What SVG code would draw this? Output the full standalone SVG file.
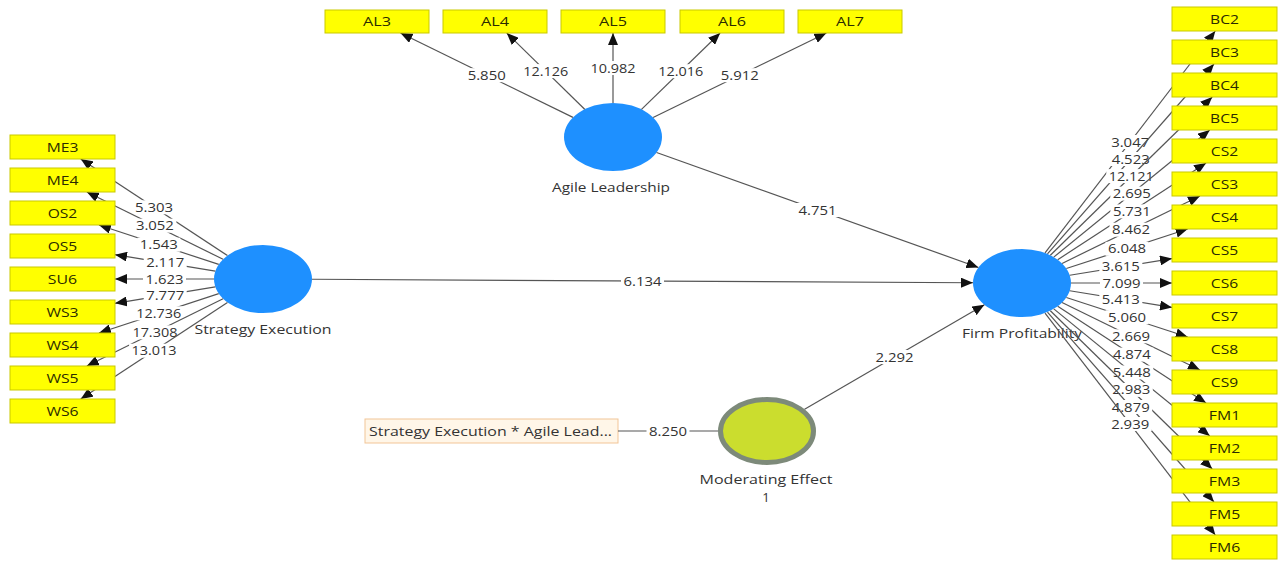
<svg xmlns="http://www.w3.org/2000/svg" width="1278" height="561" viewBox="0 0 1278 561">
<style>
  text { font-family: "Open Sans", "Noto Sans", "Liberation Sans", sans-serif; fill: #333; }
  .num { font-size: 13px; text-anchor: middle; }
  .lv { font-size: 13px; text-anchor: middle; }
  .ind rect { fill: #ffff00; stroke: #c9c900; stroke-width: 1; }
  .ind text { font-size: 13px; text-anchor: middle; fill: #2b2b00; }
  .lat ellipse { fill: #1e90ff; }
  .cn line { stroke: #555; stroke-width: 1.2; }
  .cn .a { marker-end: url(#arr); }
  .cn rect { fill: #fff; }
</style>
<defs>
  <marker id="arr" markerUnits="userSpaceOnUse" viewBox="0 0 12 10" refX="12" refY="5" markerWidth="12" markerHeight="10" orient="auto">
    <path d="M0,0 L12,5 L0,10 z" fill="#111"/>
  </marker>
</defs>
<rect width="1278" height="561" fill="#fff"/>

<!-- latent variables -->
<g id="strategy-execution" class="lat">
  <ellipse cx="263" cy="279" rx="49" ry="34"/>
  <text class="lv" x="263" y="334" textLength="137" lengthAdjust="spacingAndGlyphs">Strategy Execution</text>
</g>
<g id="agile-leadership" class="lat">
  <ellipse cx="613" cy="137" rx="49" ry="34"/>
  <text class="lv" x="611" y="192" textLength="118" lengthAdjust="spacingAndGlyphs">Agile Leadership</text>
</g>
<g id="firm-profitability" class="lat">
  <ellipse cx="1022" cy="283" rx="49" ry="34"/>
  <text class="lv" x="1022" y="338" textLength="120" lengthAdjust="spacingAndGlyphs">Firm Profitability</text>
</g>
<g id="moderating-effect-1">
  <ellipse cx="767" cy="431" rx="46.5" ry="31.5" fill="#cbdd2e" stroke="#7d8a7a" stroke-width="5"/>
  <text class="lv" x="766" y="484" textLength="133" lengthAdjust="spacingAndGlyphs">Moderating Effect</text>
  <text class="lv" x="766" y="502">1</text>
</g>
<g id="interaction-term">
  <rect x="365" y="419" width="253" height="24" fill="#fff6e8" stroke="#f2c597" stroke-width="1"/>
  <text x="369" y="435.5" font-size="13" textLength="243" lengthAdjust="spacingAndGlyphs">Strategy Execution * Agile Lead...</text>
</g>

<!-- connectors -->
<g id="connectors" class="cn">
  <!-- Strategy Execution outer loadings -->
  <g><line class="a" x1="227.45" y1="255.6" x2="80.73" y2="159"/><rect x="132.6" y="200.3" width="43" height="14"/><text class="num" x="154.1" y="211.8" textLength="38" lengthAdjust="spacingAndGlyphs">5.303</text></g>
  <g><line class="a" x1="223.08" y1="259.29" x2="86.8" y2="192"/><rect x="133.4" y="218.65" width="43" height="14"/><text class="num" x="154.9" y="230.15" textLength="38" lengthAdjust="spacingAndGlyphs">3.052</text></g>
  <g><line class="a" x1="218.73" y1="264.43" x2="98.95" y2="225"/><rect x="137.3" y="237.7" width="43" height="14"/><text class="num" x="158.8" y="249.2" textLength="38" lengthAdjust="spacingAndGlyphs">1.543</text></g>
  <g><line class="a" x1="215.32" y1="271.15" x2="115" y2="254.64"/><rect x="143.7" y="255.9" width="43" height="14"/><text class="num" x="165.2" y="267.4" textLength="38" lengthAdjust="spacingAndGlyphs">2.117</text></g>
  <g><line class="a" x1="214" y1="279" x2="115" y2="279"/><rect x="143" y="272" width="43" height="14"/><text class="num" x="164.5" y="283.5" textLength="38" lengthAdjust="spacingAndGlyphs">1.623</text></g>
  <g><line class="a" x1="215.32" y1="286.85" x2="115" y2="303.36"/><rect x="143.7" y="288.1" width="43" height="14"/><text class="num" x="165.2" y="299.6" textLength="38" lengthAdjust="spacingAndGlyphs">7.777</text></g>
  <g><line class="a" x1="218.73" y1="293.57" x2="98.95" y2="333"/><rect x="133.8" y="306.3" width="50" height="14"/><text class="num" x="158.8" y="317.8" textLength="45" lengthAdjust="spacingAndGlyphs">12.736</text></g>
  <g><line class="a" x1="223.08" y1="298.71" x2="86.8" y2="366"/><rect x="129.9" y="325.35" width="50" height="14"/><text class="num" x="154.9" y="336.85" textLength="45" lengthAdjust="spacingAndGlyphs">17.308</text></g>
  <g><line class="a" x1="227.45" y1="302.4" x2="80.73" y2="399"/><rect x="129.1" y="343.7" width="50" height="14"/><text class="num" x="154.1" y="355.2" textLength="45" lengthAdjust="spacingAndGlyphs">13.013</text></g>

  <!-- Agile Leadership outer loadings -->
  <g><line class="a" x1="572.96" y1="117.4" x2="400.5" y2="33"/><rect x="465.2" y="68.2" width="43" height="14"/><text class="num" x="486.7" y="79.7" textLength="38" lengthAdjust="spacingAndGlyphs">5.850</text></g>
  <g><line class="a" x1="584.66" y1="109.26" x2="506.75" y2="33"/><rect x="520.7" y="64.1" width="50" height="14"/><text class="num" x="545.7" y="75.6" textLength="45" lengthAdjust="spacingAndGlyphs">12.126</text></g>
  <g><line class="a" x1="613" y1="103" x2="613" y2="33"/><rect x="588" y="61" width="50" height="14"/><text class="num" x="613" y="72.5" textLength="45" lengthAdjust="spacingAndGlyphs">10.982</text></g>
  <g><line class="a" x1="641.5" y1="109.34" x2="720.15" y2="33"/><rect x="655.8" y="64.2" width="50" height="14"/><text class="num" x="680.8" y="75.7" textLength="45" lengthAdjust="spacingAndGlyphs">12.016</text></g>
  <g><line class="a" x1="653.1" y1="117.46" x2="826.4" y2="33"/><rect x="718.25" y="68.2" width="43" height="14"/><text class="num" x="739.75" y="79.7" textLength="38" lengthAdjust="spacingAndGlyphs">5.912</text></g>

  <!-- Firm Profitability outer loadings -->
  <g><line class="a" x1="1045.02" y1="252.99" x2="1215.3" y2="31"/><rect x="1108.7" y="135" width="43" height="14"/><text class="num" x="1130.2" y="146.5" textLength="38" lengthAdjust="spacingAndGlyphs">3.047</text></g>
  <g><line class="a" x1="1047.46" y1="253.95" x2="1213.98" y2="64"/><rect x="1109.2" y="152" width="43" height="14"/><text class="num" x="1130.7" y="163.5" textLength="38" lengthAdjust="spacingAndGlyphs">4.523</text></g>
  <g><line class="a" x1="1050.36" y1="255.27" x2="1212.23" y2="97"/><rect x="1106.3" y="169.1" width="50" height="14"/><text class="num" x="1131.3" y="180.6" textLength="45" lengthAdjust="spacingAndGlyphs">12.121</text></g>
  <g><line class="a" x1="1053.77" y1="257.11" x2="1209.77" y2="130"/><rect x="1110.3" y="186.6" width="43" height="14"/><text class="num" x="1131.8" y="198.1" textLength="38" lengthAdjust="spacingAndGlyphs">2.695</text></g>
  <g><line class="a" x1="1057.71" y1="259.72" x2="1206.09" y2="163"/><rect x="1110.4" y="204.4" width="43" height="14"/><text class="num" x="1131.9" y="215.9" textLength="38" lengthAdjust="spacingAndGlyphs">5.731</text></g>
  <g><line class="a" x1="1062.06" y1="263.42" x2="1199.95" y2="196"/><rect x="1109.5" y="222.7" width="43" height="14"/><text class="num" x="1131" y="234.2" textLength="38" lengthAdjust="spacingAndGlyphs">8.462</text></g>
  <g><line class="a" x1="1066.35" y1="268.54" x2="1187.68" y2="229"/><rect x="1105.5" y="241.8" width="43" height="14"/><text class="num" x="1127" y="253.3" textLength="38" lengthAdjust="spacingAndGlyphs">6.048</text></g>
  <g><line class="a" x1="1069.7" y1="275.23" x2="1172" y2="258.56"/><rect x="1099.35" y="259.9" width="43" height="14"/><text class="num" x="1120.85" y="271.4" textLength="38" lengthAdjust="spacingAndGlyphs">3.615</text></g>
  <g><line class="a" x1="1071" y1="283" x2="1172" y2="283"/><rect x="1100" y="276" width="43" height="14"/><text class="num" x="1121.5" y="287.5" textLength="38" lengthAdjust="spacingAndGlyphs">7.099</text></g>
  <g><line class="a" x1="1069.7" y1="290.77" x2="1172" y2="307.44"/><rect x="1099.35" y="292.1" width="43" height="14"/><text class="num" x="1120.85" y="303.6" textLength="38" lengthAdjust="spacingAndGlyphs">5.413</text></g>
  <g><line class="a" x1="1066.35" y1="297.46" x2="1187.68" y2="337"/><rect x="1105.5" y="310.2" width="43" height="14"/><text class="num" x="1127" y="321.7" textLength="38" lengthAdjust="spacingAndGlyphs">5.060</text></g>
  <g><line class="a" x1="1062.06" y1="302.58" x2="1199.95" y2="370"/><rect x="1109.5" y="329.3" width="43" height="14"/><text class="num" x="1131" y="340.8" textLength="38" lengthAdjust="spacingAndGlyphs">2.669</text></g>
  <g><line class="a" x1="1057.71" y1="306.28" x2="1206.09" y2="403"/><rect x="1110.4" y="347.6" width="43" height="14"/><text class="num" x="1131.9" y="359.1" textLength="38" lengthAdjust="spacingAndGlyphs">4.874</text></g>
  <g><line class="a" x1="1053.77" y1="308.89" x2="1209.77" y2="436"/><rect x="1110.3" y="365.45" width="43" height="14"/><text class="num" x="1131.8" y="376.95" textLength="38" lengthAdjust="spacingAndGlyphs">5.448</text></g>
  <g><line class="a" x1="1050.36" y1="310.73" x2="1212.23" y2="469"/><rect x="1109.8" y="382.9" width="43" height="14"/><text class="num" x="1131.3" y="394.4" textLength="38" lengthAdjust="spacingAndGlyphs">2.983</text></g>
  <g><line class="a" x1="1047.46" y1="312.05" x2="1213.98" y2="502"/><rect x="1109.2" y="400" width="43" height="14"/><text class="num" x="1130.7" y="411.5" textLength="38" lengthAdjust="spacingAndGlyphs">4.879</text></g>
  <g><line class="a" x1="1045.02" y1="313.01" x2="1215.3" y2="535"/><rect x="1108.7" y="417" width="43" height="14"/><text class="num" x="1130.2" y="428.5" textLength="38" lengthAdjust="spacingAndGlyphs">2.939</text></g>

  <!-- structural paths -->
  <g><line class="a" x1="312" y1="279.26" x2="973" y2="282.74"/><rect x="621" y="274" width="43" height="14"/><text class="num" x="642.5" y="285.5" textLength="38" lengthAdjust="spacingAndGlyphs">6.134</text></g>
  <g><line class="a" x1="656.57" y1="152.55" x2="978.43" y2="267.45"/><rect x="796" y="203" width="43" height="14"/><text class="num" x="817.5" y="214.5" textLength="38" lengthAdjust="spacingAndGlyphs">4.751</text></g>
  <g><line class="a" x1="804.58" y1="409.19" x2="984.42" y2="304.81"/><rect x="873" y="350" width="43" height="14"/><text class="num" x="894.5" y="361.5" textLength="38" lengthAdjust="spacingAndGlyphs">2.292</text></g>
  <g><line x1="618" y1="431" x2="718" y2="431"/><rect x="646.5" y="424" width="43" height="14"/><text class="num" x="668" y="435.5" textLength="38" lengthAdjust="spacingAndGlyphs">8.250</text></g>
</g>

<!-- indicators: Strategy Execution -->
<g id="ME3" class="ind"><rect x="10" y="135" width="105" height="24"/><text x="62.5" y="151.5" textLength="31.7" lengthAdjust="spacingAndGlyphs">ME3</text></g>
<g id="ME4" class="ind"><rect x="10" y="168" width="105" height="24"/><text x="62.5" y="184.5" textLength="31.7" lengthAdjust="spacingAndGlyphs">ME4</text></g>
<g id="OS2" class="ind"><rect x="10" y="201" width="105" height="24"/><text x="62.5" y="217.5" textLength="29.6" lengthAdjust="spacingAndGlyphs">OS2</text></g>
<g id="OS5" class="ind"><rect x="10" y="234" width="105" height="24"/><text x="62.5" y="250.5" textLength="29.6" lengthAdjust="spacingAndGlyphs">OS5</text></g>
<g id="SU6" class="ind"><rect x="10" y="267" width="105" height="24"/><text x="62.5" y="283.5" textLength="29.3" lengthAdjust="spacingAndGlyphs">SU6</text></g>
<g id="WS3" class="ind"><rect x="10" y="300" width="105" height="24"/><text x="62.5" y="316.5" textLength="32.2" lengthAdjust="spacingAndGlyphs">WS3</text></g>
<g id="WS4" class="ind"><rect x="10" y="333" width="105" height="24"/><text x="62.5" y="349.5" textLength="32.2" lengthAdjust="spacingAndGlyphs">WS4</text></g>
<g id="WS5" class="ind"><rect x="10" y="366" width="105" height="24"/><text x="62.5" y="382.5" textLength="32.2" lengthAdjust="spacingAndGlyphs">WS5</text></g>
<g id="WS6" class="ind"><rect x="10" y="399" width="105" height="24"/><text x="62.5" y="415.5" textLength="32.2" lengthAdjust="spacingAndGlyphs">WS6</text></g>

<!-- indicators: Agile Leadership -->
<g id="AL3" class="ind"><rect x="325" y="10" width="104" height="23"/><text x="377" y="26" textLength="28" lengthAdjust="spacingAndGlyphs">AL3</text></g>
<g id="AL4" class="ind"><rect x="443" y="10" width="104" height="23"/><text x="495" y="26" textLength="28" lengthAdjust="spacingAndGlyphs">AL4</text></g>
<g id="AL5" class="ind"><rect x="561" y="10" width="104" height="23"/><text x="613" y="26" textLength="28" lengthAdjust="spacingAndGlyphs">AL5</text></g>
<g id="AL6" class="ind"><rect x="680" y="10" width="104" height="23"/><text x="732" y="26" textLength="28" lengthAdjust="spacingAndGlyphs">AL6</text></g>
<g id="AL7" class="ind"><rect x="798" y="10" width="104" height="23"/><text x="850" y="26" textLength="28" lengthAdjust="spacingAndGlyphs">AL7</text></g>

<!-- indicators: Firm Profitability -->
<g id="BC2" class="ind"><rect x="1172" y="7" width="105" height="24"/><text x="1224.5" y="23.5" textLength="28.9" lengthAdjust="spacingAndGlyphs">BC2</text></g>
<g id="BC3" class="ind"><rect x="1172" y="40" width="105" height="24"/><text x="1224.5" y="56.5" textLength="28.9" lengthAdjust="spacingAndGlyphs">BC3</text></g>
<g id="BC4" class="ind"><rect x="1172" y="73" width="105" height="24"/><text x="1224.5" y="89.5" textLength="28.9" lengthAdjust="spacingAndGlyphs">BC4</text></g>
<g id="BC5" class="ind"><rect x="1172" y="106" width="105" height="24"/><text x="1224.5" y="122.5" textLength="28.9" lengthAdjust="spacingAndGlyphs">BC5</text></g>
<g id="CS2" class="ind"><rect x="1172" y="139" width="105" height="24"/><text x="1224.5" y="155.5" textLength="27.3" lengthAdjust="spacingAndGlyphs">CS2</text></g>
<g id="CS3" class="ind"><rect x="1172" y="172" width="105" height="24"/><text x="1224.5" y="188.5" textLength="27.3" lengthAdjust="spacingAndGlyphs">CS3</text></g>
<g id="CS4" class="ind"><rect x="1172" y="205" width="105" height="24"/><text x="1224.5" y="221.5" textLength="27.3" lengthAdjust="spacingAndGlyphs">CS4</text></g>
<g id="CS5" class="ind"><rect x="1172" y="238" width="105" height="24"/><text x="1224.5" y="254.5" textLength="27.3" lengthAdjust="spacingAndGlyphs">CS5</text></g>
<g id="CS6" class="ind"><rect x="1172" y="271" width="105" height="24"/><text x="1224.5" y="287.5" textLength="27.3" lengthAdjust="spacingAndGlyphs">CS6</text></g>
<g id="CS7" class="ind"><rect x="1172" y="304" width="105" height="24"/><text x="1224.5" y="320.5" textLength="27.3" lengthAdjust="spacingAndGlyphs">CS7</text></g>
<g id="CS8" class="ind"><rect x="1172" y="337" width="105" height="24"/><text x="1224.5" y="353.5" textLength="27.3" lengthAdjust="spacingAndGlyphs">CS8</text></g>
<g id="CS9" class="ind"><rect x="1172" y="370" width="105" height="24"/><text x="1224.5" y="386.5" textLength="27.3" lengthAdjust="spacingAndGlyphs">CS9</text></g>
<g id="FM1" class="ind"><rect x="1172" y="403" width="105" height="24"/><text x="1224.5" y="419.5" textLength="31.4" lengthAdjust="spacingAndGlyphs">FM1</text></g>
<g id="FM2" class="ind"><rect x="1172" y="436" width="105" height="24"/><text x="1224.5" y="452.5" textLength="31.4" lengthAdjust="spacingAndGlyphs">FM2</text></g>
<g id="FM3" class="ind"><rect x="1172" y="469" width="105" height="24"/><text x="1224.5" y="485.5" textLength="31.4" lengthAdjust="spacingAndGlyphs">FM3</text></g>
<g id="FM5" class="ind"><rect x="1172" y="502" width="105" height="24"/><text x="1224.5" y="518.5" textLength="31.4" lengthAdjust="spacingAndGlyphs">FM5</text></g>
<g id="FM6" class="ind"><rect x="1172" y="535" width="105" height="24"/><text x="1224.5" y="551.5" textLength="31.4" lengthAdjust="spacingAndGlyphs">FM6</text></g>
</svg>
